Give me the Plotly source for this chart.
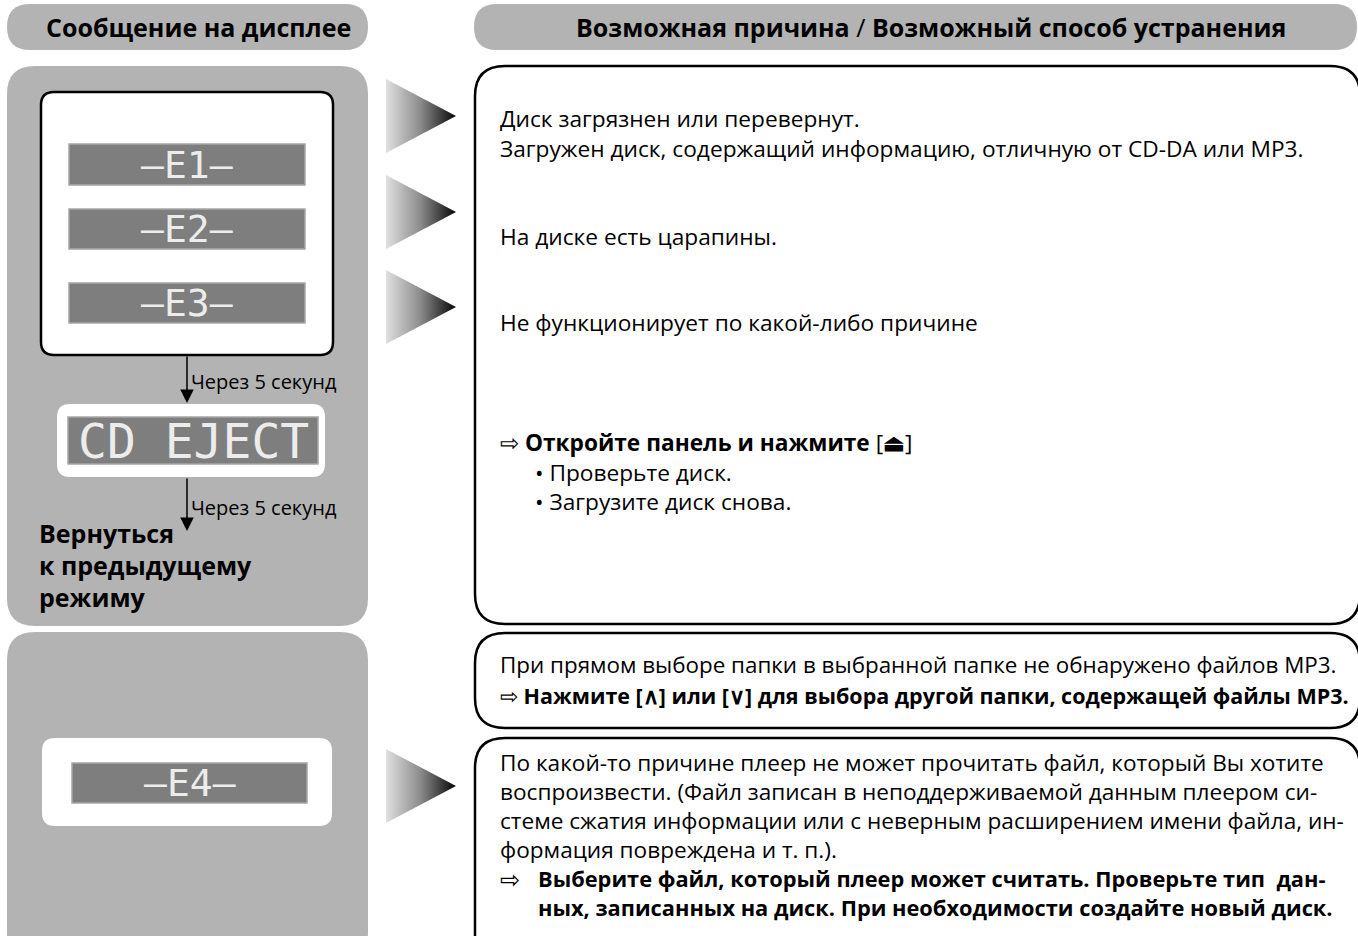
import plotly.graph_objects as go

W, H = 1358, 936

# ---- text content ----
header_left = "Сообщение на дисплее"
header_right = "<b>Возможная причина</b> / <b>Возможный способ устранения</b>"
codes_group1 = ["–E1–", "–E2–", "–E3–"]
code_e4 = "–E4–"
eject_text = "CD EJECT"
delay_label = "Через 5 секунд"
return_lines = ["Вернуться", "к предыдущему", "режиму"]
cause_e1 = ["Диск загрязнен или перевернут.",
            "Загружен диск, содержащий информацию, отличную от CD-DA или MP3."]
cause_e2 = ["На диске есть царапины."]
cause_e3 = ["Не функционирует по какой-либо причине"]
remedy_main = "⇨ <b>Откройте панель и нажмите</b> [<b>⏏</b>]"
remedy_bullets = ["• Проверьте диск.", "• Загрузите диск снова."]
e4_folder_lines = ["При прямом выборе папки в выбранной папке не обнаружено файлов MP3.",
                   "⇨ <b>Нажмите [∧] или [∨] для выбора другой папки, содержащей файлы MP3.</b>"]
e4_file_cause = ["По какой-то причине плеер не может прочитать файл, который Вы хотите",
                 "воспроизвести. (Файл записан в неподдерживаемой данным плеером си-",
                 "стеме сжатия информации или с неверным расширением имени файла, ин-",
                 "формация повреждена и т. п.)."]
e4_file_remedy = ["<b>Выберите файл, который плеер может считать. Проверьте тип  дан-</b>",
                  "<b>ных, записанных на диск. При необходимости создайте новый диск.</b>"]

# ---- styling ----
GREY = "#b3b3b3"
LCD = "#7e7e7e"
LCD_EDGE = "#a6a6a6"
FONT = "Open Sans"
BODY = 22.7


def rrect(x0, y0, x1, y1, r):
    return (f"M{x0+r},{y0} L{x1-r},{y0} Q{x1},{y0} {x1},{y0+r} "
            f"L{x1},{y1-r} Q{x1},{y1} {x1-r},{y1} L{x0+r},{y1} "
            f"Q{x0},{y1} {x0},{y1-r} L{x0},{y0+r} Q{x0},{y0} {x0+r},{y0} Z")


shapes = []
annotations = []


def box(x0, y0, x1, y1, r, fill, line=None, lw=0):
    shapes.append(dict(type="path", path=rrect(x0, y0, x1, y1, r), xref="x", yref="y",
                       fillcolor=fill, line=dict(color=line or fill, width=lw),
                       layer="below"))


def text(x, y, s, size=BODY, anchor="left", color="black", family=FONT):
    annotations.append(dict(x=x, y=y, xref="x", yref="y", text=s, showarrow=False,
                            xanchor=anchor, yanchor="middle",
                            font=dict(family=family, size=size, color=color)))


# headers
box(7, 4, 368, 50, 23, GREY)
box(474, 4, 1357, 50, 23, GREY)
text(198, 27, f"<b>{header_left}</b>", size=25, anchor="center")
text(931, 27, header_right, size=25, anchor="center")

# left panels
box(7, 66, 368, 626, 28, GREY)
box(7, 632, 368, 960, 28, GREY)

# white box with E1-E3
box(41, 92, 333, 355, 13, "white", "black", 2.5)
lcd_rows = [(144, 185), (209, 249), (283, 323)]
for (ya, yb), code in zip(lcd_rows, codes_group1):
    shapes.append(dict(type="rect", x0=69, x1=305, y0=ya, y1=yb, xref="x", yref="y",
                       fillcolor=LCD, line=dict(color=LCD_EDGE, width=1.5), layer="below"))
    text(187, (ya + yb) / 2, code, size=38, anchor="center", color="#ececec",
         family="DejaVu Sans Mono")

# CD EJECT
box(57, 404, 325, 477, 13, "white")
shapes.append(dict(type="rect", x0=68, x1=318, y0=417, y1=464, xref="x", yref="y",
                   fillcolor=LCD, line=dict(color=LCD_EDGE, width=1.5), layer="below"))
text(193, 441, eject_text, size=48, anchor="center", color="#ececec",
     family="DejaVu Sans Mono")

# down arrows + labels
for (ys, ye, ly) in [(355, 403, 381), (477, 531, 507)]:
    annotations.append(dict(x=187, y=ye, ax=187, ay=ys, xref="x", yref="y", axref="x",
                            ayref="y", showarrow=True, arrowhead=2, arrowsize=1.8,
                            arrowwidth=1.5, arrowcolor="black", text=""))
    text(189, ly, delay_label, size=20)

for i, s in enumerate(return_lines):
    text(37, 533 + 32 * i, f"<b>{s}</b>", size=25)

# E4
box(42, 738, 332, 826, 13, "white")
shapes.append(dict(type="rect", x0=72, x1=307, y0=763, y1=803, xref="x", yref="y",
                   fillcolor=LCD, line=dict(color=LCD_EDGE, width=1.5), layer="below"))
text(190, 783, code_e4, size=38, anchor="center", color="#ececec",
     family="DejaVu Sans Mono")

# gradient triangles
fig = go.Figure()
tri_rows = [116, 212, 307, 786]
for yc in tri_rows:
    fig.add_trace(go.Scatter(x=[386, 456, 386, 386], y=[yc - 37, yc, yc + 37, yc - 37],
                             mode="lines", fill="toself", line=dict(width=0),
                             fillgradient=dict(type="horizontal",
                                               colorscale=[[0, "#e0e0e0"], [0.5, "#8a8a8a"],
                                                           [1, "#050505"]]),
                             hoverinfo="skip", showlegend=False))

# right boxes
box(475, 66, 1360, 624, 30, "white", "black", 2.5)
box(475, 633, 1360, 728, 30, "white", "black", 2.5)
box(475, 738, 1360, 990, 30, "white", "black", 2.5)

for i, s in enumerate(cause_e1):
    text(498, 118 + 30 * i, s)
text(498, 236, cause_e2[0])
text(498, 322, cause_e3[0])
text(498, 442, remedy_main)
for i, s in enumerate(remedy_bullets):
    text(533, 472 + 29 * i, s)

text(498, 664, e4_folder_lines[0], size=22.4)
text(498, 695, e4_folder_lines[1], size=21.5)

for i, s in enumerate(e4_file_cause):
    text(498, 762 + 29 * i, s, size=22.6)
text(498, 878, "⇨", size=24)
for i, s in enumerate(e4_file_remedy):
    text(536, 878 + 29 * i, s, size=21.8)

fig.update_layout(
    width=W, height=H, margin=dict(l=0, r=0, t=0, b=0),
    paper_bgcolor="white", plot_bgcolor="white",
    xaxis=dict(range=[0, W], visible=False, fixedrange=True),
    yaxis=dict(range=[H, 0], visible=False, fixedrange=True),
    shapes=shapes, annotations=annotations, showlegend=False,
)
fig.write_html("out.html", config={"displayModeBar": False},
               post_script="document.body.style.margin='0';document.body.style.overflow='hidden';")
